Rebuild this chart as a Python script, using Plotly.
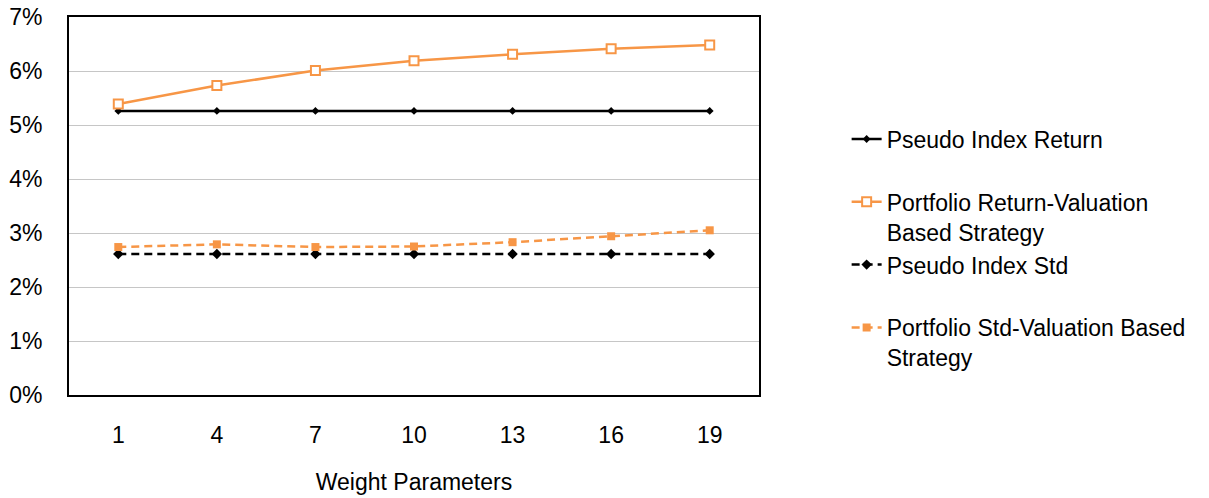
import plotly.graph_objects as go

# Weight parameter settings on the x axis
weight_params = ["1", "4", "7", "10", "13", "16", "19"]

# Annualised returns and standard deviations (fractions)
pseudo_index_return = [0.0526, 0.0526, 0.0526, 0.0526, 0.0526, 0.0526, 0.0526]
portfolio_return = [0.0539, 0.0573, 0.0601, 0.0619, 0.0631, 0.0641, 0.0648]
pseudo_index_std = [0.0261, 0.0261, 0.0261, 0.0261, 0.0261, 0.0261, 0.0261]
portfolio_std = [0.0274, 0.0279, 0.0274, 0.0275, 0.0283, 0.0294, 0.0305]

y_ticks = [0, 0.01, 0.02, 0.03, 0.04, 0.05, 0.06, 0.07]

ORANGE = "#F79646"
FONT = "Arial, Liberation Sans, sans-serif"

fig = go.Figure()

fig.add_trace(go.Scatter(
    x=weight_params, y=pseudo_index_return, mode="lines+markers",
    name="Pseudo Index Return<br> ",
    line=dict(color="black", width=2.5),
    marker=dict(symbol="diamond", size=6, color="black"),
))
fig.add_trace(go.Scatter(
    x=weight_params, y=portfolio_return, mode="lines+markers",
    name="Portfolio Return-Valuation<br>Based Strategy",
    line=dict(color=ORANGE, width=2.5),
    marker=dict(symbol="square", size=9, color="white",
                line=dict(color=ORANGE, width=2)),
))
fig.add_trace(go.Scatter(
    x=weight_params, y=pseudo_index_std, mode="lines+markers",
    name="Pseudo Index Std<br> ",
    line=dict(color="black", width=2.5, dash="8px,5px"),
    marker=dict(symbol="diamond", size=8, color="black"),
))
fig.add_trace(go.Scatter(
    x=weight_params, y=portfolio_std, mode="lines+markers",
    name="Portfolio Std-Valuation Based<br>Strategy",
    line=dict(color=ORANGE, width=2.5, dash="8px,5px"),
    marker=dict(symbol="square", size=8, color=ORANGE),
))

fig.update_layout(
    width=1209, height=498,
    margin=dict(l=69, r=450, t=17, b=103, autoexpand=False),
    paper_bgcolor="white", plot_bgcolor="white",
    font=dict(family=FONT, size=23, color="black"),
    showlegend=True,
    legend=dict(
        x=1.127, xanchor="left", y=0.734, yanchor="top",
        font=dict(family=FONT, size=23, color="black"),
        valign="top", tracegroupgap=0,
        bgcolor="rgba(0,0,0,0)",
    ),
    xaxis=dict(
        type="category", range=[-0.5, 6.5], automargin=False,
        showline=True, mirror=True, linecolor="black", linewidth=2,
        showgrid=False, ticks="", ticklabelstandoff=18,
        tickfont=dict(size=23),
        title=dict(text="Weight Parameters", font=dict(size=23), standoff=27),
    ),
    yaxis=dict(
        range=[0, 0.07], tickvals=y_ticks, tickformat=".0%", automargin=False,
        showline=True, mirror=True, linecolor="black", linewidth=2,
        showgrid=True, gridcolor="#C6C6C6", gridwidth=1,
        zeroline=False, ticks="", ticklabelstandoff=20,
        tickfont=dict(size=23),
    ),
)

fig.write_html("out.html")
